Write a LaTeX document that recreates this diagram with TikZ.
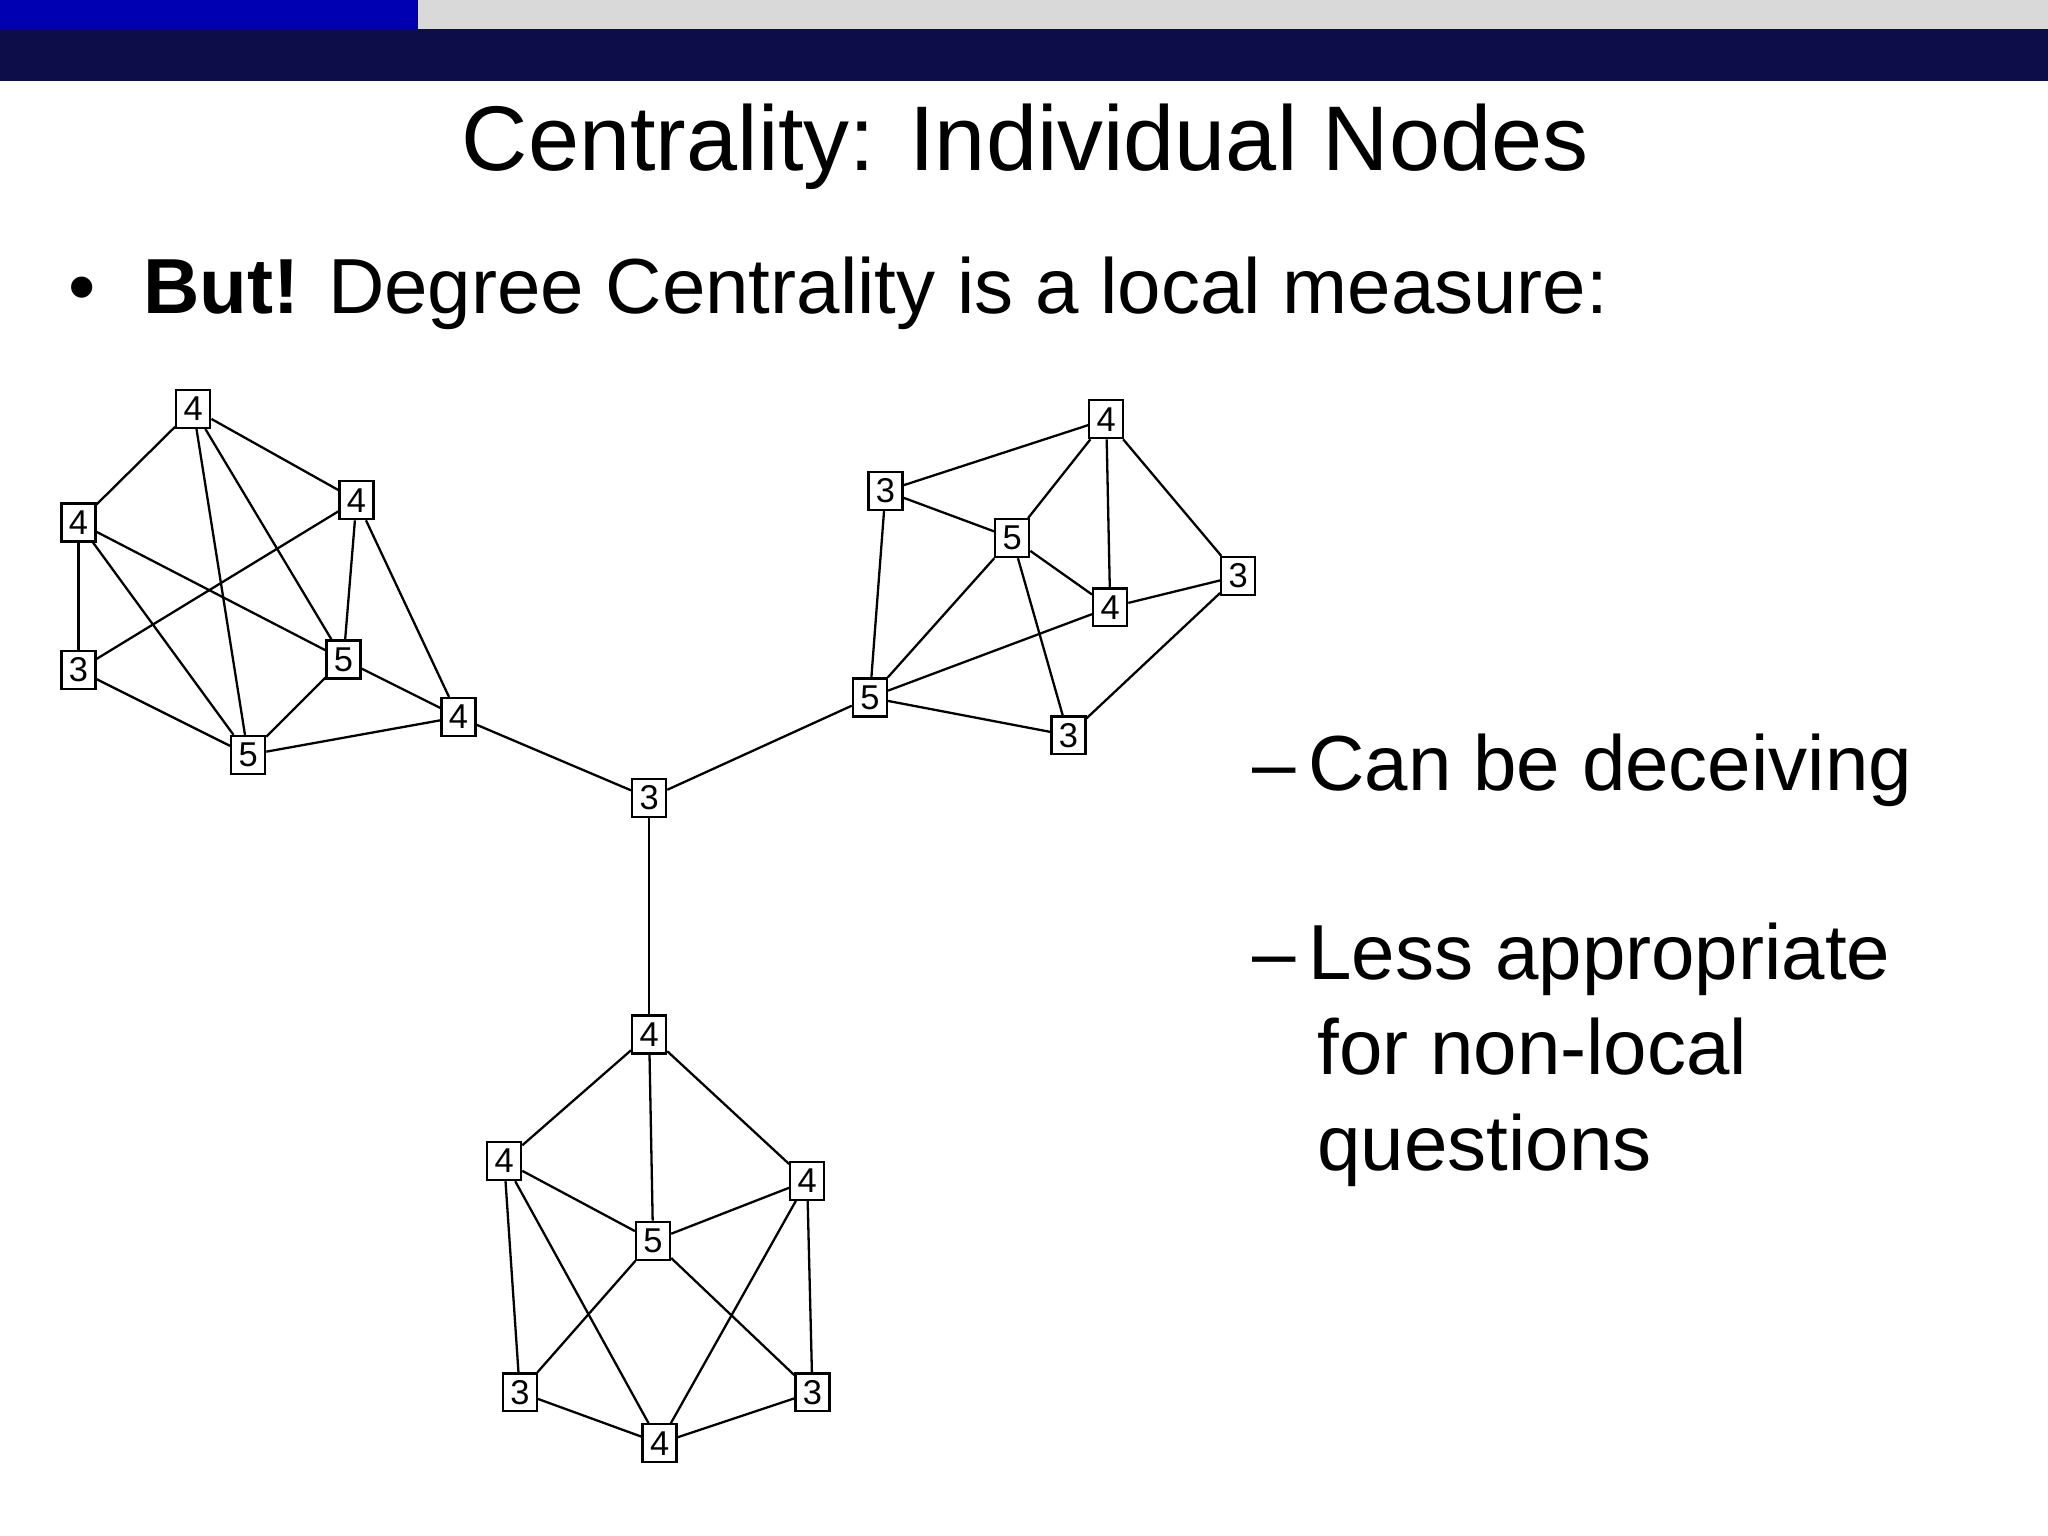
\documentclass[tikz,border=0pt]{standalone}
\usepackage{fontspec}
\setmainfont{Liberation Sans}
\begin{document}
\begin{tikzpicture}[x=0.01cm,y=-0.01cm,
  gn/.style={draw,fill=white,inner sep=0pt,minimum width=0.26cm,minimum height=0.29cm,font=\fontsize{7.5}{8}\selectfont,line width=0.5pt},
  ed/.style={line width=0.5pt}]
\useasboundingbox (0,0) rectangle (1568,1176);
\fill[gray!30] (0,0) rectangle (1568,22);
\fill[blue!70!black] (0,0) rectangle (320,22);
\fill[blue!25!black!95] (0,22) rectangle (1568,62);
\node[font=\fontsize{20}{24}\selectfont] (title) at (785,112) {Centrality: Individual Nodes};
\node[anchor=base west,font=\fontsize{17}{20}\selectfont,inner sep=0pt] (bul) at (52,240) {•\hspace{0.6em}\textbf{But!} Degree Centrality is a local measure:};
\node[anchor=base west,font=\fontsize{17}{20}\selectfont,inner sep=0pt] (t1) at (958,605) {–\,Can be deceiving};
\node[anchor=base west,font=\fontsize{17}{20}\selectfont,inner sep=0pt,align=left] (t2) at (958,750) {–\,Less appropriate};
\node[anchor=base west,font=\fontsize{17}{20}\selectfont,inner sep=0pt] (t3) at (1008,823) {for non-local};
\node[anchor=base west,font=\fontsize{17}{20}\selectfont,inner sep=0pt] (t4) at (1008,896) {questions};
% cluster A
\node[gn] (a1) at (148,313) {4};
\node[gn] (a2) at (273,383) {4};
\node[gn] (a3) at (60,400) {4};
\node[gn] (a4) at (60,513) {3};
\node[gn] (a5) at (263,505) {5};
\node[gn] (a6) at (190,578) {5};
\node[gn] (a7) at (351,549) {4};
\node[gn] (c) at (497,611) {3};
% cluster B
\node[gn] (b1) at (847,321) {4};
\node[gn] (b2) at (678,376) {3};
\node[gn] (b3) at (775,412) {5};
\node[gn] (b4) at (948,441) {3};
\node[gn] (b5) at (850,465) {4};
\node[gn] (b6) at (666,534) {5};
\node[gn] (b7) at (818,563) {3};
% cluster C
\node[gn] (d1) at (497,792) {4};
\node[gn] (d2) at (386,889) {4};
\node[gn] (d3) at (618,904) {4};
\node[gn] (d4) at (500,950) {5};
\node[gn] (d5) at (398,1066) {3};
\node[gn] (d6) at (622,1066) {3};
\node[gn] (d7) at (505,1105) {4};
\begin{scope}[on background layer/.style={}]
\end{scope}
\foreach \u/\v in {a1/a3,a1/a2,a1/a6,a1/a5,a3/a4,a3/a5,a3/a6,a4/a2,a4/a6,a2/a5,a2/a7,a5/a6,a5/a7,a6/a7,a7/c,
 b2/b1,b2/b3,b2/b6,b1/b3,b1/b5,b1/b4,b3/b5,b3/b6,b3/b7,b5/b4,b5/b6,b4/b7,b6/b7,b6/c,
 d1/c,d1/d2,d1/d3,d1/d4,d2/d4,d2/d5,d2/d7,d3/d4,d3/d6,d3/d7,d4/d5,d4/d6,d5/d7,d6/d7}
  \draw[ed] (\u) -- (\v);
\end{tikzpicture}
\end{document}
